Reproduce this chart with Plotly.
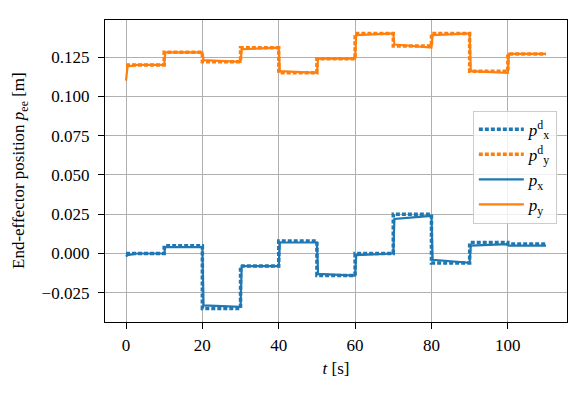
import plotly.graph_objects as go

# desired set-points, one value per 10 s segment (last value repeated at t=110)
t_des = [0, 10, 20, 30, 40, 50, 60, 70, 80, 90, 100, 110]
px_des = [0.000, 0.005, -0.035, -0.008, 0.008, -0.014, 0.000, 0.025, -0.006, 0.007, 0.006, 0.006]
py_des = [0.120, 0.128, 0.122, 0.131, 0.115, 0.124, 0.140, 0.132, 0.140, 0.116, 0.127, 0.127]

t_act = [0, 0.4, 3, 10, 10.3, 20, 20.3, 30, 30.3, 40, 40.3, 50, 50.3, 60,
         60.3, 70, 70.3, 80, 80.3, 90, 90.3, 100, 100.3, 110]
px_act = [-0.002, -0.001, 0.000, 0.000, 0.004, 0.004, -0.033, -0.034, -0.008, -0.008,
          0.007, 0.007, -0.013, -0.014, -0.001, 0.000, 0.022, 0.024, -0.004, -0.006,
          0.005, 0.006, 0.005, 0.005]
py_act = [0.110, 0.119, 0.120, 0.120, 0.128, 0.128, 0.123, 0.122, 0.130, 0.131,
          0.116, 0.115, 0.124, 0.124, 0.139, 0.140, 0.133, 0.131, 0.139, 0.140,
          0.116, 0.115, 0.127, 0.127]

blue = "#1f77b4"
orange = "#ff7f0e"
font = "'Liberation Serif', 'DejaVu Serif', serif"

fig = go.Figure()
fig.add_trace(go.Scatter(x=t_des, y=px_des, mode="lines", line_shape="hv",
                         line=dict(color=blue, width=3.5, dash="4px,2px"),
                         name="<i>p</i><sup>d</sup><sub>x</sub>"))
fig.add_trace(go.Scatter(x=t_des, y=py_des, mode="lines", line_shape="hv",
                         line=dict(color=orange, width=3.5, dash="4px,2px"),
                         name="<i>p</i><sup>d</sup><sub>y</sub>"))
fig.add_trace(go.Scatter(x=t_act, y=px_act, mode="lines",
                         line=dict(color=blue, width=2.2),
                         name="<i>p</i><sub>x</sub>"))
fig.add_trace(go.Scatter(x=t_act, y=py_act, mode="lines",
                         line=dict(color=orange, width=2.2),
                         name="<i>p</i><sub>y</sub>"))

axis_common = dict(
    showline=True, linecolor="black", linewidth=1.3, mirror=True,
    ticks="outside", ticklen=6, tickcolor="black", tickwidth=1.2,
    showgrid=True, gridcolor="#b0b0b0", gridwidth=1, zeroline=False,
    tickfont=dict(family=font, size=17, color="black"),
)

fig.update_xaxes(range=[-5.5, 115.5], tickmode="array", tickvals=[0, 20, 40, 60, 80, 100],
                 ticklabelstandoff=1,
                 title=dict(text="<i>t</i> [s]", font=dict(family=font, size=17, color="black"),
                            standoff=8),
                 **axis_common)
fig.update_yaxes(range=[-0.0436, 0.1486], tickmode="array",
                 tickvals=[-0.025, 0, 0.025, 0.05, 0.075, 0.1, 0.125], tickformat=".3f",
                 ticklabelstandoff=5,
                 **axis_common)

# y label as an annotation so it can sit closer to the page edge
fig.add_annotation(text="End-effector position <i>p</i><sub>ee</sub> [m]",
                   xref="paper", yref="paper", x=0, y=0.5, xanchor="center", yanchor="middle",
                   xshift=-85, textangle=-90, showarrow=False,
                   font=dict(family=font, size=17, color="black"))

# the page body adds an 8px offset, so the figure is 8px smaller on each axis
fig.update_layout(
    width=578, height=389,
    margin=dict(l=97, r=19, t=12, b=75),
    plot_bgcolor="white", paper_bgcolor="white",
    font=dict(family=font, size=17, color="black"),
    legend=dict(x=0.978, xanchor="right", y=0.70, yanchor="top",
                bgcolor="rgba(255,255,255,0.8)", bordercolor="#cccccc", borderwidth=1,
                itemwidth=45,
                font=dict(family=font, size=17, color="black"), tracegroupgap=0),
    showlegend=True,
)

fig.write_html("out.html")
